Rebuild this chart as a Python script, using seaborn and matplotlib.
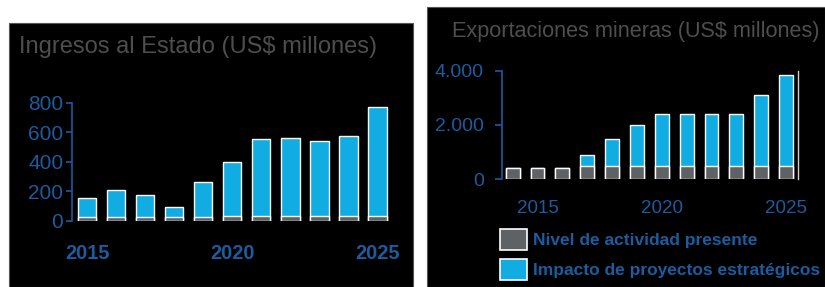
import matplotlib
matplotlib.use("Agg")
import matplotlib.pyplot as plt
import pandas as pd
import seaborn as sns
from matplotlib.patches import Rectangle
from matplotlib.ticker import FuncFormatter

# Ingresos al Estado (US$ millones)
years_ing = [2015, 2016, 2017, 2018, 2019, 2020, 2021, 2022, 2023, 2024, 2025]
ing_total = [155, 211, 175, 91, 262, 400, 557, 560, 541, 575, 773]
ing_base = [25, 25, 25, 25, 25, 35, 35, 35, 35, 35, 35]

# Exportaciones mineras (US$ millones)
years_exp = [2014, 2015, 2016, 2017, 2018, 2019, 2020, 2021, 2022, 2023, 2024, 2025]
exp_total = [420, 420, 420, 880, 1480, 2000, 2400, 2400, 2400, 2400, 3100, 3850]
exp_base = [420, 420, 420, 480, 480, 480, 480, 480, 480, 480, 480, 480]

labels = ["Nivel de actividad presente", "Impacto de proyectos estratégicos"]

BLUE = "#10ace2"
GREY = "#5f6265"
TXT_BLUE = "#1d5b9e"
TITLE_GREY = "#4e4e4e"

W, H = 825, 287
plt.rcParams["font.family"] = ["Liberation Sans", "DejaVu Sans"]

fig = plt.figure(figsize=(W / 100, H / 100), dpi=100)
fig.patch.set_facecolor("white")


def px(x0, y_top, x1, y_bot):
    return [x0 / W, 1 - y_bot / H, (x1 - x0) / W, (y_bot - y_top) / H]


# black panels
fig.patches.append(Rectangle((9 / W, 0), (413 - 9) / W, 1 - 23 / H,
                             transform=fig.transFigure, facecolor="black",
                             edgecolor="#555555", lw=0.8, zorder=-5))
fig.patches.append(Rectangle((427 / W, 0), (825 - 427) / W, 1 - 7 / H,
                             transform=fig.transFigure, facecolor="black",
                             edgecolor="#555555", lw=0.8, zorder=-5))


def draw(ax, years, total, base, width, ymax, yticks, fmt, ysize, xsize, xpad, ypad,
         ylen, xweight):
    df = pd.DataFrame({"year": [str(y) for y in years], "total": total, "base": base})
    sns.barplot(data=df, x="year", y="total", color=BLUE, width=width,
                edgecolor="white", linewidth=1.0, saturation=1, ax=ax)
    sns.barplot(data=df, x="year", y="base", color=GREY, width=width,
                edgecolor="white", linewidth=1.0, saturation=1, ax=ax)
    ax.set_facecolor("none")
    ax.set_ylim(0, ymax)
    ax.set_yticks(yticks)
    ax.yaxis.set_major_formatter(FuncFormatter(fmt))
    ax.set_xlabel("")
    ax.set_ylabel("")
    idx = [years.index(y) for y in (2015, 2020, 2025)]
    ax.set_xticks(idx)
    ax.set_xticklabels(["2015", "2020", "2025"], fontweight=xweight)
    ax.tick_params(axis="x", length=0, pad=xpad, labelsize=xsize, labelcolor=TXT_BLUE)
    ax.tick_params(axis="y", length=ylen, width=1.2, color=TXT_BLUE, pad=ypad,
                   labelsize=ysize, labelcolor=TXT_BLUE)
    for s in ("top", "bottom", "right"):
        ax.spines[s].set_visible(False)
    ax.spines["left"].set_color(TXT_BLUE)
    ax.spines["left"].set_linewidth(1.2)


# left chart
ax1 = fig.add_axes(px(71.7, 102.7, 392, 220.7))
draw(ax1, years_ing, ing_total, ing_base, 0.63, 800, [0, 200, 400, 600, 800],
     lambda v, p: f"{int(v)}", 15, 14.4, 17, 2, 4, "bold")
ax1.set_xlim(-0.53, 10.5)
fig.text(19 / W, 1 - 47 / H, "Ingresos al Estado (US$ millones)", color=TITLE_GREY,
         fontsize=17, va="center", ha="left")

# right chart
ax2 = fig.add_axes(px(501.7, 70.7, 798, 179))
draw(ax2, years_exp, exp_total, exp_base, 0.56, 4000, [0, 2000, 4000],
     lambda v, p: f"{int(v):,}".replace(",", "."), 14, 13.5, 15, 8, 5, "normal")
ax2.set_xlim(-0.44, 11.48)
ax2.spines["right"].set_visible(True)
ax2.spines["right"].set_color("#d0d0d0")
ax2.spines["right"].set_linewidth(1.0)
fig.text(452 / W, 1 - 32 / H, "Exportaciones mineras (US$ millones)", color=TITLE_GREY,
         fontsize=15.6, va="center", ha="left")

# legend
handles = [Rectangle((0, 0), 1, 1, facecolor=GREY, edgecolor="white", lw=1.2),
           Rectangle((0, 0), 1, 1, facecolor=BLUE, edgecolor="white", lw=1.2)]
leg = fig.legend(handles, labels, loc="upper left", bbox_to_anchor=(500 / W, 1 - 229 / H),
                 frameon=False, fontsize=12.5, handlelength=1.55, handleheight=1.45,
                 handletextpad=0.35, labelspacing=0.55, borderpad=0, borderaxespad=0)
for t in leg.get_texts():
    t.set_color(TXT_BLUE)
    t.set_fontweight("bold")

fig.savefig("out.png", dpi=100, facecolor="white")
